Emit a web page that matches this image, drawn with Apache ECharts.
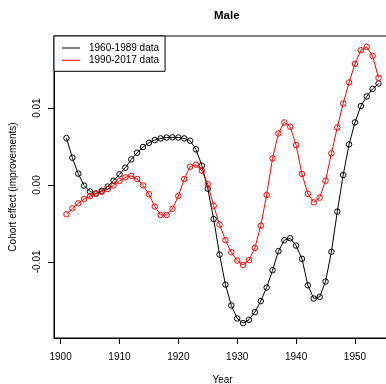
<!DOCTYPE html>
<html>
<head>
<meta charset="utf-8">
<script src="https://cdn.jsdelivr.net/npm/echarts@6/dist/echarts.min.js"></script>
<style>html,body{margin:0;padding:0;background:#fff}#c{width:386px;height:384px}</style>
</head>
<body>
<div id="c"></div>
<script>
const years = [1901,1902,1903,1904,1905,1906,1907,1908,1909,1910,1911,1912,1913,1914,1915,1916,1917,1918,1919,1920,1921,1922,1923,1924,1925,1926,1927,1928,1929,1930,1931,1932,1933,1934,1935,1936,1937,1938,1939,1940,1941,1942,1943,1944,1945,1946,1947,1948,1949,1950,1951,1952,1953,1954];
const data1960_1989 = [0.0061,0.00355,0.00148,-0.00008,-0.00085,-0.00110,-0.00075,-0.00020,0.00056,0.00139,0.00225,0.00333,0.00420,0.00494,0.00548,0.00584,0.00606,0.00617,0.00620,0.00618,0.00606,0.00576,0.00463,0.00252,-0.00048,-0.00443,-0.00905,-0.01295,-0.01567,-0.01736,-0.01797,-0.01753,-0.01654,-0.01510,-0.01333,-0.01108,-0.00861,-0.00718,-0.00693,-0.00788,-0.00960,-0.01305,-0.01476,-0.01455,-0.01256,-0.00870,-0.00346,0.00130,0.00528,0.00814,0.01026,0.01152,0.01250,0.01320];
const data1990_2017 = [-0.0038,-0.00303,-0.00238,-0.00182,-0.00143,-0.00113,-0.00087,-0.00052,-0.00004,0.00052,0.00100,0.00118,0.00078,-0.00006,-0.00120,-0.00280,-0.00390,-0.00390,-0.00310,-0.00143,0.00078,0.00238,0.00265,0.00186,0.00009,-0.00269,-0.00515,-0.00718,-0.00874,-0.00983,-0.01039,-0.00978,-0.00818,-0.00530,-0.00130,0.00347,0.00671,0.00814,0.00758,0.00520,0.00143,-0.00115,-0.00225,-0.00165,0.00056,0.00412,0.00749,0.01061,0.01334,0.01575,0.01753,0.01796,0.01679,0.01394];
const xTicks = [1900,1910,1920,1930,1940,1950];
const yTicks = [-0.01,0,0.01];
const seriesNames = ['1960-1989 data','1990-2017 data'];
const seriesColors = ['#000000','#ff0000'];

const font = 'Liberation Sans, Arial, Helvetica, sans-serif';
const chart = echarts.init(document.getElementById('c'), null, {renderer:'canvas'});
const iconPath = 'path://M0,5.5 L18,5.5 L18,6.5 L0,6.5 Z M22,0 L22,12 L22,0 Z';

function mkSeries(name, vals, color){
  return {
    name: name, type: 'line',
    data: years.map((y,i)=>[y, vals[i]]),
    symbol: 'circle', symbolSize: 5.5,
    itemStyle: {color: 'transparent', borderColor: color, borderWidth: 1},
    lineStyle: {color: color, width: 1},
    emphasis: {disabled: true},
    silent: true
  };
}

chart.setOption({
  animation: false,
  backgroundColor: '#fff',
  textStyle: {fontFamily: font},
  title: {
    text: 'Male', left: 209, top: 5,
    textStyle: {fontFamily: font, fontSize: 11.5, fontWeight: 'bold', color: '#000'}
  },
  legend: {
    left: 54, top: 36, orient: 'vertical',
    padding: [6, 6, 5, 8], itemGap: 0.3,
    itemWidth: 22, itemHeight: 12,
    borderColor: '#000', borderWidth: 1, borderRadius: 0,
    backgroundColor: '#fff',
    textStyle: {fontFamily: font, fontSize: 10, color: '#000', lineHeight: 12},
    data: seriesNames.map((n,i)=>({name: n, icon: iconPath, itemStyle: {color: seriesColors[i], borderWidth: 0}})),
    selectedMode: false
  },
  grid: {
    left: 54, top: 36, width: 337, height: 302,
    outerBoundsMode: 'none', containLabel: false,
    show: true, borderColor: '#000', borderWidth: 1, backgroundColor: 'transparent'
  },
  xAxis: {
    type: 'value', min: 1898.88, max: 1956.12,
    name: 'Year', nameLocation: 'middle', nameGap: 37,
    nameTextStyle: {fontFamily: font, fontSize: 10, color: '#000'},
    axisLine: {show: true, onZero: false, lineStyle: {color: '#000', width: 1}},
    axisTick: {show: true, inside: false, length: 6, lineStyle: {color: '#000'}, customValues: xTicks},
    axisLabel: {customValues: xTicks, margin: 14, fontFamily: font, fontSize: 10, color: '#000', formatter: v => String(v)},
    splitLine: {show: false}
  },
  yAxis: {
    type: 'value', min: -0.0199, max: 0.01938,
    name: 'Cohort effect (improvements)', nameLocation: 'middle', nameGap: 36, nameRotate: 90,
    nameTextStyle: {fontFamily: font, fontSize: 10, color: '#000'},
    axisLine: {show: true, onZero: false, lineStyle: {color: '#000', width: 1}},
    axisTick: {show: true, inside: false, length: 6, lineStyle: {color: '#000'}, customValues: yTicks},
    axisLabel: {customValues: yTicks, rotate: 90, margin: 12, fontFamily: font, fontSize: 10, color: '#000', formatter: v => v.toFixed(2)},
    splitLine: {show: false}
  },
  series: [
    mkSeries(seriesNames[0], data1960_1989, seriesColors[0]),
    mkSeries(seriesNames[1], data1990_2017, seriesColors[1])
  ]
});
</script>
</body>
</html>
